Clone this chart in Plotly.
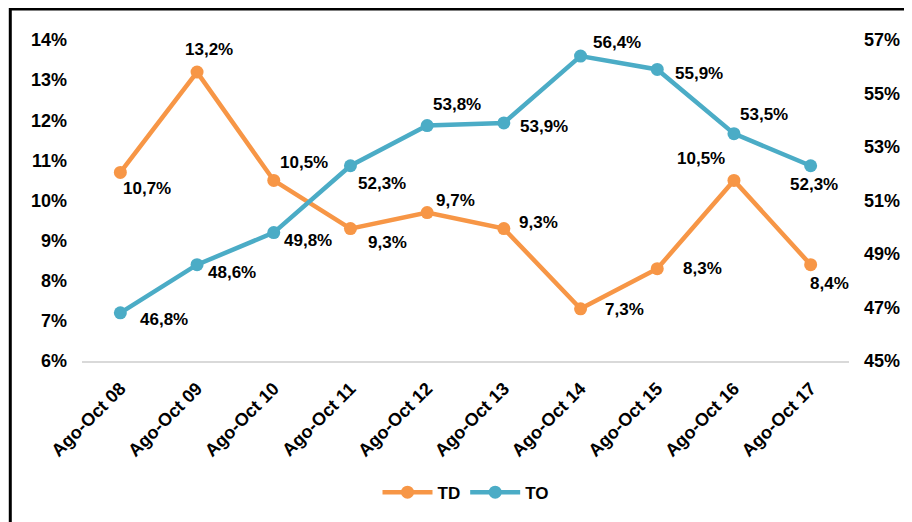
import plotly.graph_objects as go

# Data
periods = ["Ago-Oct 08", "Ago-Oct 09", "Ago-Oct 10", "Ago-Oct 11", "Ago-Oct 12",
           "Ago-Oct 13", "Ago-Oct 14", "Ago-Oct 15", "Ago-Oct 16", "Ago-Oct 17"]
td = [10.7, 13.2, 10.5, 9.3, 9.7, 9.3, 7.3, 8.3, 10.5, 8.4]
to = [46.8, 48.6, 49.8, 52.3, 53.8, 53.9, 56.4, 55.9, 53.5, 52.3]

# label offsets in pixels (dx, dy) from each marker
td_off = [(27, -16), (12, 23), (30, 18), (37, -14), (28, 12),
          (35, 6), (44, -1), (45, 0), (-33, 22), (19, -19)]
to_off = [(44, -7), (35, -8), (34, -8), (32, -18), (30, 21),
          (40, -4), (36, 14), (42, -4), (30, 19), (3, -19)]

def fmt(v):
    return f"{v:.1f}%".replace(".", ",")

ORANGE = "#F79646"
BLUE = "#4BACC6"
bold = dict(family="Arial, Liberation Sans", size=17, color="black", weight="bold")

fig = go.Figure()
fig.add_trace(go.Scatter(x=periods, y=td, name="TD", mode="lines+markers",
                         line=dict(color=ORANGE, width=4.5), marker=dict(size=13, color=ORANGE),
                         cliponaxis=False))
fig.add_trace(go.Scatter(x=periods, y=to, name="TO", mode="lines+markers", yaxis="y2",
                         line=dict(color=BLUE, width=4.5), marker=dict(size=13, color=BLUE),
                         cliponaxis=False))

# data labels
for xs, ys, offs, yref in [(periods, td, td_off, "y"), (periods, to, to_off, "y2")]:
    for xv, yv, (dx, dy) in zip(xs, ys, offs):
        fig.add_annotation(x=xv, y=yv, xref="x", yref=yref, text=fmt(yv), showarrow=False,
                           xshift=dx, yshift=dy, font=bold)

# page has an 8px body margin, so the figure is shrunk by that amount
fig.update_layout(
    width=904, height=514,
    margin=dict(l=74, r=60, t=32, b=161),
    plot_bgcolor="white", paper_bgcolor="white",
    font=bold,
    showlegend=True,
    legend=dict(orientation="h", x=0.5, xanchor="center", y=-0.41, yanchor="middle",
                font=bold, itemwidth=50),
    xaxis=dict(range=[-0.5, 9.5], tickangle=-45, showgrid=False, showline=True,
               linecolor="#d9d9d9", linewidth=2, ticks="", ticklabelstandoff=8,
               tickfont=dict(bold, size=18)),
    yaxis=dict(range=[6, 14], dtick=1, ticksuffix="%", showgrid=False, zeroline=False,
               showline=False, tickfont=dict(bold, size=18), ticklabelstandoff=14),
    yaxis2=dict(range=[45, 57], tick0=45, dtick=2, ticksuffix="%", overlaying="y",
                side="right", showgrid=False, zeroline=False, showline=False,
                tickfont=dict(bold, size=18), ticklabelstandoff=14),
    shapes=[dict(type="rect", xref="paper", yref="paper", x0=-0.0935, x1=1.085,
                 y0=-0.52, y1=1.0966, line=dict(color="black", width=3))],
)

fig.write_html("out.html")
